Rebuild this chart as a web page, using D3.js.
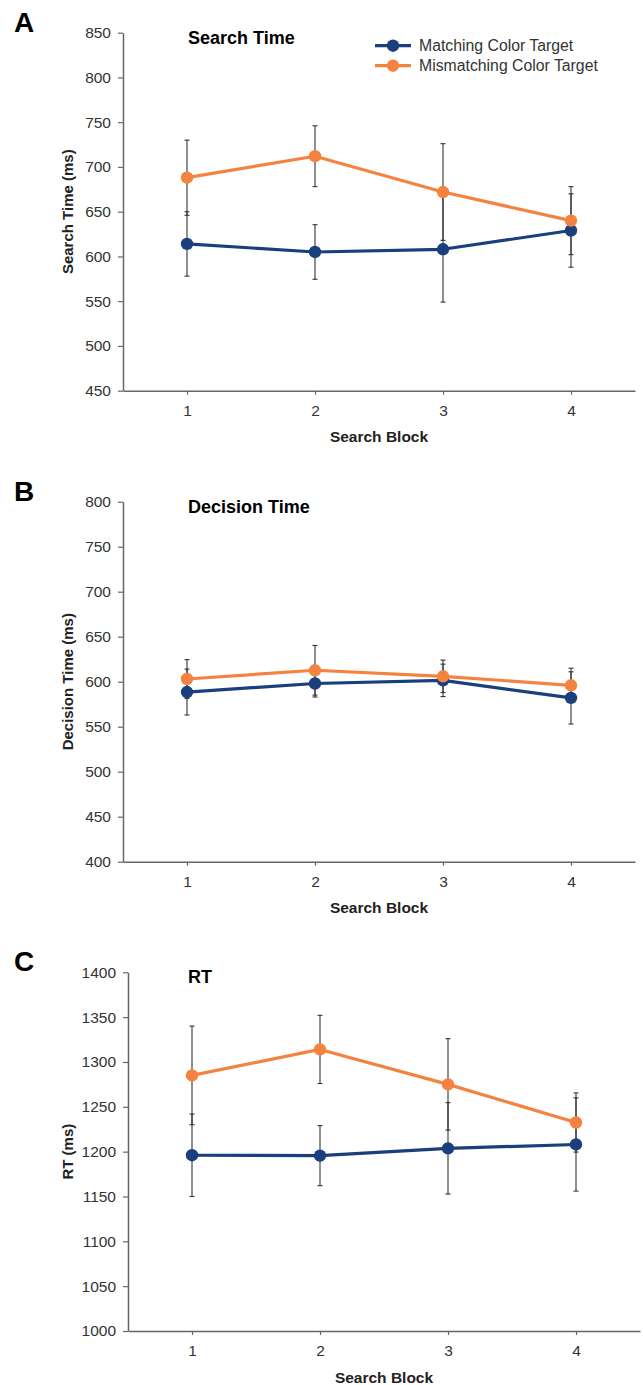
<!DOCTYPE html>
<html>
<head>
<meta charset="utf-8">
<script src="https://cdn.jsdelivr.net/npm/d3@7"></script>
<style>
  html, body { margin: 0; padding: 0; background: #fff; }
  svg { display: block; }
  text { font-family: "Liberation Sans", Arial, sans-serif; }
</style>
</head>
<body>
<svg id="chart" width="643" height="1385"></svg>
<script>
// ---- Data ----
const blocks = [1, 2, 3, 4];
const seriesNames = ["Matching Color Target", "Mismatching Color Target"];

const searchMatch = [614, 605, 608, 629];
const searchMatchErr = [36, 30.5, 59, 41];
const searchMismatch = [688, 712, 672, 640];
const searchMismatchErr = [42, 34, 54, 38];

const decisionMatch = [588.5, 598, 601.5, 582];
const decisionMatchErr = [25.5, 15, 18, 29];
const decisionMismatch = [603, 612.7, 606, 596];
const decisionMismatchErr = [21.5, 27.6, 18, 19];

const rtMatch = [1196, 1195.6, 1203.7, 1208];
const rtMatchErr = [46, 33.5, 51, 52];
const rtMismatch = [1285, 1314, 1275, 1232.5];
const rtMismatchErr = [55, 38, 51, 33];

const searchTicks = [450, 500, 550, 600, 650, 700, 750, 800, 850];
const decisionTicks = [400, 450, 500, 550, 600, 650, 700, 750, 800];
const rtTicks = [1000, 1050, 1100, 1150, 1200, 1250, 1300, 1350, 1400];

const colors = ["#1b3f7d", "#f58340"];

// ---- Panels ----
const panels = [
  { letter: "A", title: "Search Time", yLabel: "Search Time (ms)", ticks: searchTicks,
    series: [[searchMatch, searchMatchErr], [searchMismatch, searchMismatchErr]],
    x0: 123, top: 32.7, bottom: 390.7, legend: true },
  { letter: "B", title: "Decision Time", yLabel: "Decision Time (ms)", ticks: decisionTicks,
    series: [[decisionMatch, decisionMatchErr], [decisionMismatch, decisionMismatchErr]],
    x0: 123, top: 501.7, bottom: 861.7, legend: false },
  { letter: "C", title: "RT", yLabel: "RT (ms)", ticks: rtTicks,
    series: [[rtMatch, rtMatchErr], [rtMismatch, rtMismatchErr]],
    x0: 128, top: 972.3, bottom: 1331, legend: false }
];

const svg = d3.select("#chart");
const plotW = 512;

panels.forEach(p => {
  const g = svg.append("g");
  const x = d3.scalePoint().domain(blocks).range([p.x0, p.x0 + plotW]).padding(0.5);
  const y = d3.scaleLinear().domain([p.ticks[0], p.ticks[p.ticks.length - 1]]).range([p.bottom, p.top]);

  // y axis
  const ya = g.append("g").attr("transform", `translate(${p.x0},0)`)
    .call(d3.axisLeft(y).tickValues(p.ticks).tickSize(5).tickSizeOuter(0).tickPadding(7).tickFormat(d3.format("d")));
  // x axis
  const xa = g.append("g").attr("transform", `translate(0,${p.bottom})`)
    .call(d3.axisBottom(x).tickSize(4).tickSizeOuter(0).tickPadding(10));
  [ya, xa].forEach(a => {
    a.select(".domain").attr("stroke", "#666").attr("stroke-width", 1.5);
    a.selectAll(".tick line").attr("stroke", "#666").attr("stroke-width", 1.2);
    a.selectAll(".tick text").attr("fill", "#333").style("font-size", "15.5px")
      .style("font-family", "'Liberation Sans', Arial, sans-serif");
  });
  xa.selectAll(".tick text").attr("dy", "0.71em");

  // labels
  g.append("text").attr("x", 14).attr("y", p.top - 1).text(p.letter)
    .style("font-size", "28px").style("font-weight", "bold").attr("fill", "#000");
  g.append("text").attr("x", 188).attr("y", p.top + 10.8).text(p.title)
    .style("font-size", "18px").style("font-weight", "bold").attr("fill", "#000");
  g.append("text").attr("transform", `translate(${73},${(p.top + p.bottom) / 2}) rotate(-90)`)
    .attr("text-anchor", "middle").text(p.yLabel)
    .style("font-size", "15px").style("font-weight", "bold").attr("fill", "#222");
  g.append("text").attr("x", p.x0 + plotW / 2).attr("y", p.bottom + 51.5)
    .attr("text-anchor", "middle").text("Search Block")
    .style("font-size", "15.5px").style("font-weight", "bold").attr("fill", "#222");

  // error bars
  p.series.forEach(([vals, errs]) => {
    const eb = g.append("g").attr("stroke", "#333").attr("stroke-width", 1.1).attr("fill", "none");
    blocks.forEach((b, i) => {
      const cx = x(b), y1 = y(vals[i] + errs[i]), y2 = y(vals[i] - errs[i]);
      eb.append("line").attr("x1", cx).attr("x2", cx).attr("y1", y1).attr("y2", y2);
      eb.append("line").attr("x1", cx - 2.5).attr("x2", cx + 2.5).attr("y1", y1).attr("y2", y1);
      eb.append("line").attr("x1", cx - 2.5).attr("x2", cx + 2.5).attr("y1", y2).attr("y2", y2);
    });
  });

  // lines and markers
  p.series.forEach(([vals], si) => {
    const line = d3.line().x((d, i) => x(blocks[i])).y(d => y(d));
    g.append("path").datum(vals).attr("d", line).attr("fill", "none")
      .attr("stroke", colors[si]).attr("stroke-width", 3.2).attr("stroke-linejoin", "round");
    g.selectAll(null).data(vals).enter().append("circle")
      .attr("cx", (d, i) => x(blocks[i])).attr("cy", d => y(d)).attr("r", 6.2)
      .attr("fill", colors[si]);
  });

  // legend
  if (p.legend) {
    const lg = g.append("g");
    seriesNames.forEach((name, i) => {
      const ly = 45.7 + i * 20;
      lg.append("line").attr("x1", 375).attr("x2", 411).attr("y1", ly).attr("y2", ly)
        .attr("stroke", colors[i]).attr("stroke-width", 3.2);
      lg.append("circle").attr("cx", 393).attr("cy", ly).attr("r", 6.2).attr("fill", colors[i]);
      lg.append("text").attr("x", 419).attr("y", ly).attr("dy", "0.35em").text(name)
        .style("font-size", "15.8px").attr("fill", "#333");
    });
  }
});
</script>
</body>
</html>
